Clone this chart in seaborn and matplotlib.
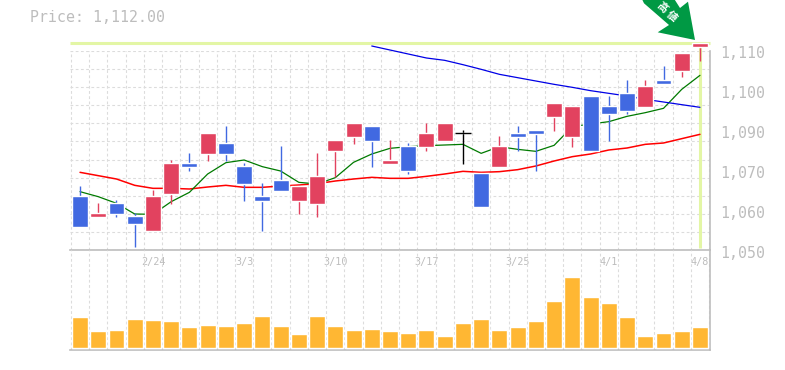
import numpy as np
import seaborn as sns
import matplotlib.pyplot as plt
from matplotlib.patches import Polygon

sns.set_theme(style="white", palette=None)
plt.rcParams['font.family'] = ['DejaVu Sans Mono']

opens = [1067.1, 1060.8, 1065.0, 1061.1, 1056.6, 1067.7, 1077.0, 1079.7, 1083.0, 1076.1, 1067.1, 1071.9,
         1065.6, 1064.7, 1080.6, 1084.8, 1088.1, 1076.7, 1082.1, 1081.8, 1083.6, 1085.9, 1074.0, 1075.8,
         1086.0, 1086.9, 1090.8, 1084.8, 1097.1, 1094.1, 1098.0, 1093.8, 1101.9, 1104.6, 1111.8]
closes = [1057.8, 1062.0, 1061.7, 1058.7, 1067.1, 1077.0, 1075.8, 1086.0, 1079.7, 1070.7, 1065.6, 1068.6,
          1070.1, 1073.1, 1083.9, 1089.0, 1083.6, 1077.9, 1074.6, 1086.0, 1089.0, 1085.9, 1063.8, 1082.1,
          1084.8, 1085.7, 1095.0, 1094.1, 1080.6, 1091.7, 1092.6, 1100.1, 1100.7, 1110.0, 1113.0]
highs = [1070.1, 1065.0, 1065.9, 1062.0, 1068.9, 1077.9, 1080.0, 1086.0, 1088.1, 1077.0, 1071.0, 1082.1,
         1070.7, 1080.0, 1083.9, 1089.0, 1088.1, 1083.9, 1083.0, 1089.0, 1089.0, 1086.9, 1074.0, 1085.1,
         1088.1, 1086.9, 1095.0, 1094.1, 1097.1, 1097.1, 1101.9, 1101.9, 1106.1, 1110.0, 1113.0]
lows = [1057.8, 1060.8, 1060.8, 1051.8, 1056.6, 1064.7, 1074.6, 1077.6, 1077.6, 1065.6, 1056.6, 1068.6,
        1061.7, 1060.8, 1072.8, 1082.7, 1075.8, 1076.7, 1073.7, 1080.6, 1083.6, 1076.7, 1063.8, 1075.8,
        1080.6, 1074.6, 1086.6, 1081.8, 1080.6, 1083.6, 1091.7, 1093.8, 1100.7, 1102.8, 1107.6]
ma_short = [1068.4, 1066.9, 1064.9, 1061.7, 1061.6, 1065.4, 1068.2, 1073.7, 1077.1, 1077.9, 1075.9, 1074.6,
            1071.2, 1070.7, 1072.6, 1077.2, 1079.7, 1081.4, 1081.9, 1082.2, 1082.4, 1082.6, 1079.9, 1081.9,
            1081.1, 1080.5, 1082.3, 1087.9, 1088.7, 1089.4, 1091.0, 1092.1, 1093.4, 1099.1, 1103.3]
ma_mid = [1074.2, 1073.2, 1072.2, 1070.3, 1069.4, 1069.4, 1069.2, 1069.8, 1070.3, 1069.7, 1069.7, 1070.1,
          1070.4, 1070.8, 1071.6, 1072.2, 1072.7, 1072.4, 1072.4, 1073.0, 1073.7, 1074.5, 1074.2, 1074.4,
          1075.0, 1076.1, 1077.6, 1078.9, 1079.7, 1080.9, 1081.5, 1082.6, 1083.0, 1084.3, 1085.6]
ma_long = [1112.1, 1110.9, 1109.7, 1108.5, 1107.8, 1106.5, 1105.1, 1103.6, 1102.6, 1101.6, 1100.6, 1099.7,
           1098.7, 1097.9, 1097.1, 1096.1, 1095.3, 1094.5, 1093.7]
volume = [31, 17, 18, 29, 28, 27, 21, 23, 22, 25, 32, 22, 14, 32, 22, 18, 19, 17,
          15, 18, 12, 25, 29, 18, 21, 27, 47, 71, 51, 45, 31, 12, 15, 17, 21]
price_labels = ['1,110', '1,100', '1,090', '1,070', '1,060', '1,050']
price_label_pos = [1110, 1098, 1086, 1074, 1062, 1050]
date_labels = ['2/24', '3/3', '3/10', '3/17', '3/25', '4/1', '4/8']
date_label_pos = [4, 9, 14, 19, 24, 29, 34]
last_price = 1112.9

RED = '#e2425f'
BLUE = '#4169e1'
GRID = '#dcdcdc'
AXIS = '#bdbdbd'
HILITE = '#e3f6a5'
W, H = 785, 370


def px(x, y):
    return x / W, 1 - y / H


days = np.arange(len(opens))
fig = plt.figure(figsize=(W / 100, H / 100), dpi=100)
ax = fig.add_axes([70 / W, 1 - 250.3 / H, 640 / W, 199.7 / H])
ax_vol = fig.add_axes([70 / W, 1 - 350.3 / H, 640 / W, 100 / H], facecolor='none')

# volume
sns.barplot(x=days, y=volume, color='#ffb733', saturation=1, width=0.877, ax=ax_vol, zorder=3)
ax_vol.set_ylim(-2.3, 97.7)
ax_vol.set_yticks([])
ax_vol.set_xlabel('')
ax_vol.set_ylabel('')

# highlight of the latest price
ax.plot([-0.55, 34.55], [last_price, last_price], color=HILITE, lw=2.2, clip_on=False, zorder=2,
        solid_capstyle='butt')
ax.plot([34, 34], [1051.5, last_price], color=HILITE, lw=2.2, clip_on=False, zorder=2, solid_capstyle='butt')

# moving averages
sns.lineplot(x=days, y=ma_mid, color='#ff0000', lw=1.1, ax=ax, zorder=3, clip_on=False)
sns.lineplot(x=days, y=ma_short, color='#007a00', lw=0.9, ax=ax, zorder=3, clip_on=False)
sns.lineplot(x=days[16:], y=ma_long, color='#0000e6', lw=0.9, ax=ax, zorder=3, clip_on=False)

# candles
colors = [RED if c > o else BLUE if c < o else 'black' for o, c in zip(opens, closes)]
ax.vlines(days, lows, highs, colors=colors, lw=1.0, zorder=4, clip_on=False)
bottoms = [min(o, c) for o, c in zip(opens, closes)]
heights = [abs(o - c) for o, c in zip(opens, closes)]
ax.bar(days, heights, bottom=bottoms, width=0.877, color=colors, zorder=5, clip_on=False)
for d, o, c in zip(days, opens, closes):
    if o == c:
        ax.hlines(o, d - 0.44, d + 0.44, colors='black', lw=1.0, zorder=5)

ax.set_xlim(-0.55, 34.55)
ax.set_ylim(1050.81, 1110.72)
ax_vol.set_xlim(-0.55, 34.55)
ax.set_xlabel('')
ax.set_ylabel('')

grid_x = np.arange(36) - 0.5
for a in [ax, ax_vol]:
    a.set_xticks(grid_x)
    a.set_xticklabels([])
    a.tick_params(length=0)
    a.grid(True, axis='x', color=GRID, lw=0.8, ls=(0, (2.5, 2.2)), zorder=0)
    a.set_axisbelow(True)
    for s in ['left', 'top']:
        a.spines[s].set_visible(False)
    for s in ['right', 'bottom']:
        a.spines[s].set_color(AXIS)
        a.spines[s].set_linewidth(1.2)
ax.set_yticks(np.linspace(1050.81, 1110.72, 12))
ax.set_yticklabels([])
ax.grid(True, axis='y', color=GRID, lw=0.8, ls=(0, (2.5, 2.2)), zorder=0)

for pos, lab in zip(price_label_pos, price_labels):
    ax.text(1.0156, pos, lab, transform=ax.get_yaxis_transform(), ha='left', va='center',
            color=AXIS, fontsize=10.7)
for pos, lab in zip(date_label_pos, date_labels):
    ax.text(pos, -0.06, lab, transform=ax.get_xaxis_transform(), ha='center', va='center',
            color=AXIS, fontsize=7.3)

fig.text(*px(30, 18), 'Price: 1,112.00', ha='left', va='center', color=AXIS, fontsize=10.7)

# marker arrow at the high
arrow = [(695, 40), (688, 1.7), (680, 8), (673, -3), (641, -3), (644, 3.3), (669, 25), (657.7, 32.3)]
fig.add_artist(Polygon([px(x, y) for x, y in arrow], closed=True, transform=fig.transFigure,
                       facecolor='#009944', edgecolor='none'))
fig.text(*px(661.5, 7.5), '高', rotation=-42, ha='center', va='center', color='white', fontsize=7.5,
         fontweight='bold', family=['Noto Sans CJK JP', 'DejaVu Sans'])
fig.text(*px(671.7, 16), '値', rotation=-42, ha='center', va='center', color='white', fontsize=7.5,
         fontweight='bold', family=['Noto Sans CJK JP', 'DejaVu Sans'])

fig.savefig('out.png', dpi=100)
